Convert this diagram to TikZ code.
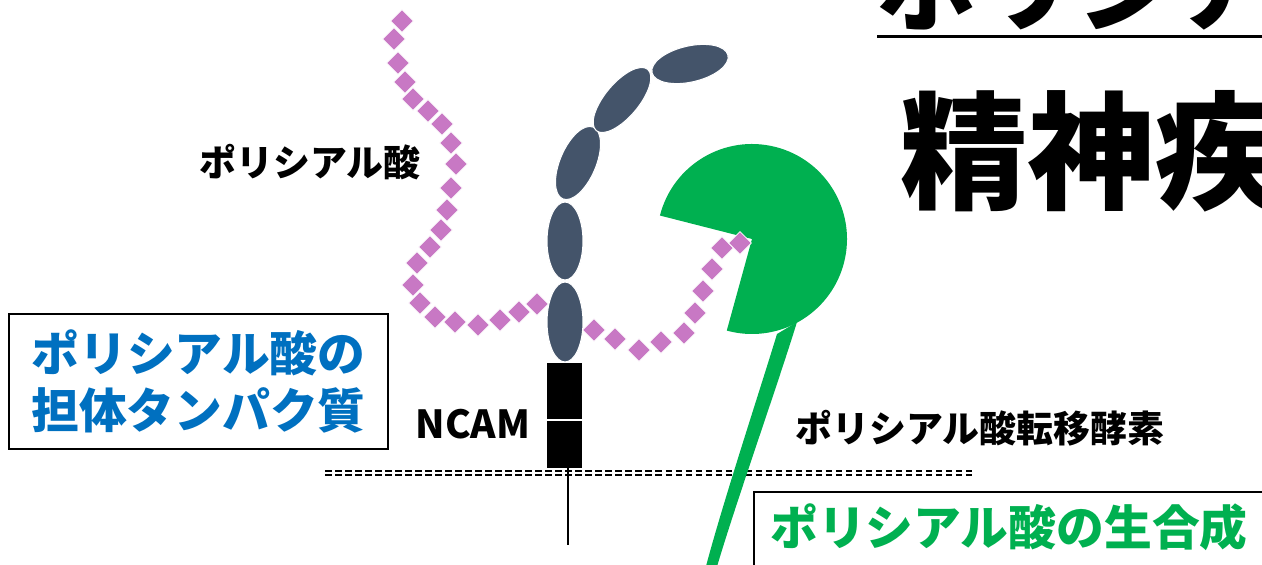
\documentclass[tikz,border=0pt]{standalone}
\usepackage{fontspec}
\setmainfont{Noto Sans CJK JP}
\usepackage{tikz}
\usetikzlibrary{positioning}
\definecolor{ncamgray}{RGB}{68,84,106}
\definecolor{psapurple}{RGB}{200,120,196}
\definecolor{stgreen}{RGB}{0,176,80}
\definecolor{boxblue}{RGB}{0,112,192}

\begin{document}
\begin{tikzpicture}[
    x=0.02cm, y=-0.02cm,
    every node/.style={font=\bfseries},
    bead/.style={rectangle, fill=psapurple, draw=white, line width=0.4pt,
        minimum size=0.32cm, inner sep=0pt, rotate=45},
    igdomain/.style={fill=ncamgray, draw=white, line width=0.6pt},
    ncambar/.style={rectangle, fill=black, inner sep=0pt,
        minimum width=0.7cm},
    tag/.style={font=\bfseries\fontsize{21}{25}\selectfont, inner sep=0pt},
    boxtext/.style={font=\bfseries\fontsize{27.2}{32.3}\selectfont, align=center},
    membrane/.style={line width=1.3pt, dash pattern=on 3.7pt off 2pt}
]
\useasboundingbox (0,0) rectangle (1262,565);
\clip (0,0) rectangle (1262,565);

% Title (runs off the top edge)
\node[anchor=base west, inner sep=0pt, font=\bfseries\fontsize{56.7}{60}\selectfont]
    (title) at (877,23) {ポリシア};
\draw[line width=1.7pt] (877,36.5) -- (1262,36.5);
\node[anchor=base west, inner sep=0pt, font=\bfseries\fontsize{72.6}{80}\selectfont]
    (subtitle) at (900,199) {精神疾};

% Ig domains of NCAM
\fill[igdomain] (565,322) ellipse [x radius=18, y radius=40];
\fill[igdomain] (565,241) ellipse [x radius=18, y radius=39];
\fill[igdomain, rotate around={-23:(578,163)}] (578,163) ellipse [x radius=18, y radius=39];
\fill[igdomain, rotate around={50:(622,100)}] (622,100) ellipse [x radius=40, y radius=17];
\fill[igdomain, rotate around={13:(690,64)}] (690,64) ellipse [x radius=39, y radius=18];

% Fibronectin part and membrane anchor
\node[ncambar, minimum height=1.12cm] (fnupper) at (564.5,391) {};
\node[ncambar, minimum height=0.94cm] (fnlower) at (564.5,444.5) {};
\coordinate (stalkend) at (568,545);
\draw[line width=1.2pt] (fnlower.south -| stalkend) -- (stalkend);

% Membrane
\draw[membrane] (325,471) -- (975,471);
\draw[membrane] (325,475) -- (975,475);

% Polysialyltransferase
\fill[stgreen] (752,239) -- +(194.3:95) arc[start angle=194.3, end angle=465.4, radius=95] -- cycle;
\fill[stgreen] (777,334) .. controls (760,390) and (722,505) .. (705,570)
    -- (716,570) .. controls (735,505) and (776,390) .. (797,322) -- cycle;

% Polysialic acid chains
\foreach \x/\y [count=\i] in {402/21, 394/39, 398/63, 405/82, 413/99, 428/111,
    442/124, 451/143, 456/164, 451/188, 447/210, 441/230, 430/247, 417/263,
    413/285, 420/303, 435/317, 455/322, 478/325, 500/320, 519/312, 537/304}
    \node[bead] (lbead\i) at (\x,\y) {};
\foreach \x/\y [count=\i] in {594/330, 615/339, 639/350, 661/342, 684/333,
    695/313, 703/291, 712/269, 722/248, 740/243}
    \node[bead] (rbead\i) at (\x,\y) {};

% Labels
\node[tag] (psa) at (310,162) {ポリシアル酸};
\node[tag] (pst) at (980,428) {ポリシアル酸転移酵素};
\node[tag, font=\bfseries\fontsize{22}{26}\selectfont] (ncam) at (473,424) {NCAM};

% Boxes
\node[draw, line width=1.1pt, minimum width=7.58cm, minimum height=2.7cm,
    text=boxblue, boxtext] (carrier) at (198.5,381.5) {ポリシアル酸の\\担体タンパク質};
\draw[line width=1.1pt] (754,492) rectangle (1300,600);
\node[text=stgreen, boxtext, inner sep=0pt] (synthesis) at (1009,527) {ポリシアル酸の生合成};
\end{tikzpicture}
\end{document}
